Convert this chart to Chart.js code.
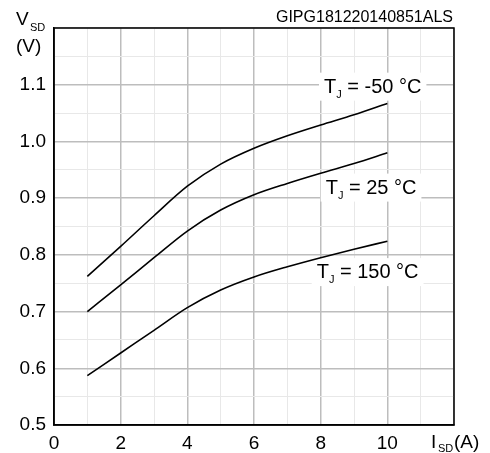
<!DOCTYPE html>
<html>
<head>
<meta charset="utf-8">
<script src="https://cdn.jsdelivr.net/npm/chart.js@4.4.0/dist/chart.umd.min.js"></script>
<style>
  html, body { margin: 0; padding: 0; background: #fff; }
  #wrap { width: 490px; height: 453px; }
</style>
</head>
<body>
<div id="wrap"><canvas id="myChart"></canvas></div>
<script>
// I_SD (A)
var current = [1, 2, 3, 4, 5, 6, 7, 8, 9, 10];
// V_SD (V) per junction temperature
var vsd_m50 = [0.762, 0.815, 0.869, 0.921, 0.960, 0.988, 1.010, 1.029, 1.047, 1.067];
var vsd_25  = [0.700, 0.747, 0.795, 0.842, 0.879, 0.906, 0.926, 0.944, 0.961, 0.980];
var vsd_150 = [0.587, 0.627, 0.667, 0.707, 0.738, 0.761, 0.779, 0.795, 0.810, 0.824];

var curveLabels = [
    {temp: '-50', x: 8.1, y: 1.086},
    {temp: '25', x: 8.15, y: 0.908},
    {temp: '150', x: 7.88, y: 0.759}
];
var docCode = 'GIPG181220140851ALS';

var FONT = '"Liberation Sans", Arial, sans-serif';

function toPoints(ys) {
    return current.map(function(x, i) { return {x: x, y: ys[i]}; });
}

// white boxed labels "T_J = xx °C" drawn over grid, under curves
function drawTjLabel(ctx, px, py, temp) {
    ctx.font = '20px ' + FONT;
    var wT = ctx.measureText('T').width;
    ctx.font = '11px ' + FONT;
    var wJ = ctx.measureText('J').width;
    ctx.font = '20px ' + FONT;
    var rest = ' = ' + temp + ' °C';
    var wR = ctx.measureText(rest).width;
    var total = wT + wJ + wR;
    ctx.fillStyle = '#fff';
    ctx.fillRect(px - 5, py - 20, total + 10, 28);
    ctx.fillStyle = '#000';
    ctx.textAlign = 'left';
    ctx.textBaseline = 'alphabetic';
    ctx.fillText('T', px, py);
    ctx.font = '11px ' + FONT;
    ctx.fillText('J', px + wT, py + 5);
    ctx.font = '20px ' + FONT;
    ctx.fillText(rest, px + wT + wJ, py);
}

var labelPlugin = {
    id: 'labelPlugin',
    beforeDatasetsDraw: function(chart) {
        var ctx = chart.ctx;
        var xs = chart.scales.x, ys = chart.scales.y;
        ctx.save();
        curveLabels.forEach(function(l) {
            drawTjLabel(ctx, xs.getPixelForValue(l.x), ys.getPixelForValue(l.y), l.temp);
        });
        ctx.restore();
    },
    afterDraw: function(chart) {
        var ctx = chart.ctx;
        var a = chart.chartArea;
        ctx.save();
        // frame
        ctx.strokeStyle = '#000';
        ctx.lineWidth = 1.5;
        ctx.strokeRect(a.left, a.top, a.right - a.left, a.bottom - a.top);

        ctx.fillStyle = '#000';
        ctx.textBaseline = 'alphabetic';
        // doc code
        ctx.font = '16px ' + FONT;
        ctx.textAlign = 'right';
        ctx.fillText(docCode, a.right - 1, 22);

        // y title V_SD (V)
        ctx.textAlign = 'left';
        ctx.font = '19px ' + FONT;
        ctx.fillText('V', 16, 25);
        ctx.font = '11px ' + FONT;
        ctx.fillText('SD', 30, 31);
        ctx.font = '19px ' + FONT;
        ctx.fillText('(V)', 16, 52);

        // x title I_SD(A)
        ctx.font = '19px ' + FONT;
        ctx.fillText('I', 431, 448);
        ctx.font = '11px ' + FONT;
        ctx.fillText('SD', 438, 452);
        ctx.font = '19px ' + FONT;
        ctx.fillText('(A)', 454, 448);
        ctx.restore();
    }
};

var lineStyle = {
    borderColor: '#000',
    borderWidth: 1.6,
    pointRadius: 0,
    fill: false,
    cubicInterpolationMode: 'monotone'
};

const ctx = document.getElementById('myChart').getContext('2d');
const myChart = new Chart(ctx, {
    type: 'line',
    data: {
        datasets: [
            Object.assign({label: 'TJ = -50 °C', data: toPoints(vsd_m50)}, lineStyle),
            Object.assign({label: 'TJ = 25 °C', data: toPoints(vsd_25)}, lineStyle),
            Object.assign({label: 'TJ = 150 °C', data: toPoints(vsd_150)}, lineStyle)
        ]
    },
    plugins: [labelPlugin],
    options: {
        responsive: true,
        maintainAspectRatio: false,
        animation: false,
        layout: {
            padding: {top: 28, right: 36, left: 0, bottom: 0}
        },
        plugins: {
            legend: {display: false},
            tooltip: {enabled: false}
        },
        scales: {
            x: {
                type: 'linear',
                min: 0,
                max: 12,
                afterFit: function(scale) { scale.height = 28; },
                ticks: {
                    stepSize: 1,
                    autoSkip: false,
                    maxRotation: 0,
                    padding: 7,
                    color: '#000',
                    font: {family: FONT, size: 19},
                    callback: function(v) {
                        return (v % 2 === 0 && v <= 10) ? String(v) : '';
                    }
                },
                grid: {
                    drawTicks: false,
                    color: function(c) {
                        return c.tick && c.tick.value % 2 === 0 ? '#bdbdbd' : '#e8e8e8';
                    },
                    lineWidth: function(c) {
                        return c.tick && c.tick.value % 2 === 0 ? 1.5 : 1;
                    }
                },
                border: {display: true, color: '#000', width: 1.5}
            },
            y: {
                type: 'linear',
                min: 0.5,
                max: 1.2,
                afterFit: function(scale) { scale.width = 54; },
                ticks: {
                    stepSize: 0.05,
                    autoSkip: false,
                    padding: 8,
                    color: '#000',
                    font: {family: FONT, size: 19},
                    callback: function(v) {
                        var k = Math.round(v * 100);
                        return (k % 10 === 0 && k < 120) ? (k / 100).toFixed(1) : '';
                    }
                },
                grid: {
                    drawTicks: false,
                    color: function(c) {
                        return c.tick && Math.round(c.tick.value * 100) % 10 === 0 ? '#bdbdbd' : '#e8e8e8';
                    },
                    lineWidth: function(c) {
                        return c.tick && Math.round(c.tick.value * 100) % 10 === 0 ? 1.5 : 1;
                    }
                },
                border: {display: true, color: '#000', width: 1.5}
            }
        }
    }
});
</script>
</body>
</html>
